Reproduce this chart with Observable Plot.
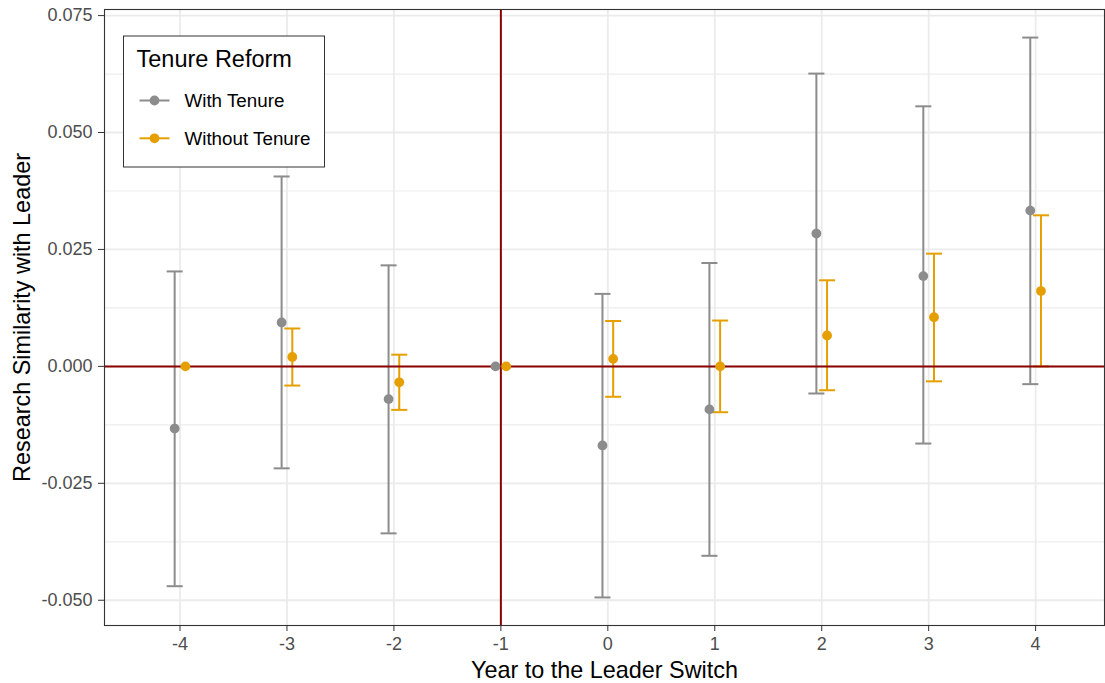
<!DOCTYPE html>
<html><head><meta charset="utf-8">
<script src="https://cdn.jsdelivr.net/npm/d3@7"></script>
<script src="https://cdn.jsdelivr.net/npm/@observablehq/plot@0.6"></script>
<style>
body{margin:0;background:#fff;}
#chart{position:relative;width:1105px;height:683px;}
</style></head><body><div id="chart"></div>
<script>
// ---- data ----
const years = [-4, -3, -2, -1, 0, 1, 2, 3, 4];
const groups = ["With Tenure", "Without Tenure"];
const withEst = [-0.0133, 0.0094, -0.0070, 0, -0.0169, -0.0092, 0.0284, 0.0193, 0.0333];
const withLo  = [-0.0470, -0.0218, -0.0357, null, -0.0494, -0.0405, -0.0058, -0.0165, -0.0038];
const withHi  = [0.0203, 0.0406, 0.0216, null, 0.0155, 0.0221, 0.0626, 0.0556, 0.0703];
const withoutEst = [0, 0.0020, -0.0034, 0, 0.0016, 0, 0.0066, 0.0105, 0.0161];
const withoutLo  = [null, -0.0041, -0.0093, null, -0.0065, -0.0098, -0.0051, -0.0032, 0];
const withoutHi  = [null, 0.0081, 0.0025, null, 0.0097, 0.0098, 0.0184, 0.0241, 0.0323];
const xTicks = [-4, -3, -2, -1, 0, 1, 2, 3, 4];
const yTicks = [-0.050, -0.025, 0, 0.025, 0.050, 0.075];
const yMinor = [-0.0375, -0.0125, 0.0125, 0.0375, 0.0625];
const legendTitle = "Tenure Reform";
const xTitle = "Year to the Leader Switch";
const yTitle = "Research Similarity with Leader";

// ---- styling ----
const colors = ["#8c8c8c", "#e69f00"];
const dodge = [-0.05, 0.05];
const capHalf = 0.075;
const font = "'Liberation Sans', Arial, Helvetica, sans-serif";

const series = [
  {est: withEst, lo: withLo, hi: withHi},
  {est: withoutEst, lo: withoutLo, hi: withoutHi}
];
const rows = [];
series.forEach((s, g) => years.forEach((yr, i) => rows.push({
  group: groups[g], year: yr, x: yr + dodge[g], est: s.est[i], lo: s.lo[i], hi: s.hi[i]
})));
const bars = rows.filter(d => d.lo != null && d.hi != null);

const plot = Plot.plot({
  width: 1105, height: 683,
  marginLeft: 104, marginRight: 1, marginTop: 9, marginBottom: 58,
  style: {fontFamily: font, background: "white", overflow: "visible"},
  x: {domain: [-4.706, 4.644]},
  y: {domain: [-0.0554, 0.0763]},
  color: {domain: groups, range: colors},
  marks: [
    Plot.gridY(yMinor, {stroke: "#ededed", strokeOpacity: 1, strokeWidth: 1.2}),
    Plot.gridY(yTicks, {stroke: "#ebebeb", strokeOpacity: 1, strokeWidth: 1.8}),
    Plot.gridX(xTicks, {stroke: "#ebebeb", strokeOpacity: 1, strokeWidth: 1.8}),
    Plot.ruleX(bars, {x: "x", y1: "lo", y2: "hi", stroke: "group", strokeWidth: 2}),
    Plot.link(bars, {x1: d => d.x - capHalf, x2: d => d.x + capHalf, y1: "hi", y2: "hi", stroke: "group", strokeWidth: 2}),
    Plot.link(bars, {x1: d => d.x - capHalf, x2: d => d.x + capHalf, y1: "lo", y2: "lo", stroke: "group", strokeWidth: 2}),
    Plot.ruleY([0], {stroke: "#8b0000", strokeWidth: 2}),
    Plot.ruleX([-1], {stroke: "#8b0000", strokeWidth: 2}),
    Plot.dot(rows, {x: "x", y: "est", fill: "group", r: 4.9}),
    Plot.frame({stroke: "#333333", strokeWidth: 1.1}),
    Plot.axisY(yTicks, {tickFormat: d => d.toFixed(3), fontSize: 18, fill: "#4d4d4d", stroke: "#333333", tickSize: 6, tickPadding: 6, label: null}),
    Plot.axisX(xTicks, {tickFormat: d => String(d), fontSize: 18, fill: "#4d4d4d", stroke: "#333333", tickSize: 6, tickPadding: 6, label: null}),
    Plot.text([xTitle], {frameAnchor: "bottom", dy: 45, fontSize: 23.4, fill: "black", lineAnchor: "middle", textAnchor: "middle"}),
    Plot.text([yTitle], {frameAnchor: "left", dx: -82, rotate: -90, fontSize: 23.4, fill: "black", lineAnchor: "middle", textAnchor: "middle"})
  ]
});
document.getElementById("chart").appendChild(plot);

// ---- legend (inside panel, top-left) ----
const svg = d3.select(plot);
const lg = svg.append("g").attr("transform", "translate(123.5,36)").attr("font-family", font).attr("text-anchor", "start");
lg.append("rect").attr("width", 201).attr("height", 131).attr("fill", "white").attr("stroke", "#333333").attr("stroke-width", 1);
lg.append("text").attr("x", 13).attr("y", 31).attr("font-size", 23.5).attr("fill", "black").text(legendTitle);
const itemY = [64.5, 102.3];
groups.forEach((g, i) => {
  lg.append("line").attr("x1", 16).attr("x2", 46).attr("y1", itemY[i]).attr("y2", itemY[i]).attr("stroke", colors[i]).attr("stroke-width", 2);
  lg.append("circle").attr("cx", 31).attr("cy", itemY[i]).attr("r", 4.9).attr("fill", colors[i]);
  lg.append("text").attr("x", 61).attr("y", itemY[i]).attr("dy", "0.36em").attr("font-size", 18.8).attr("fill", "black").text(g);
});
</script></body></html>
